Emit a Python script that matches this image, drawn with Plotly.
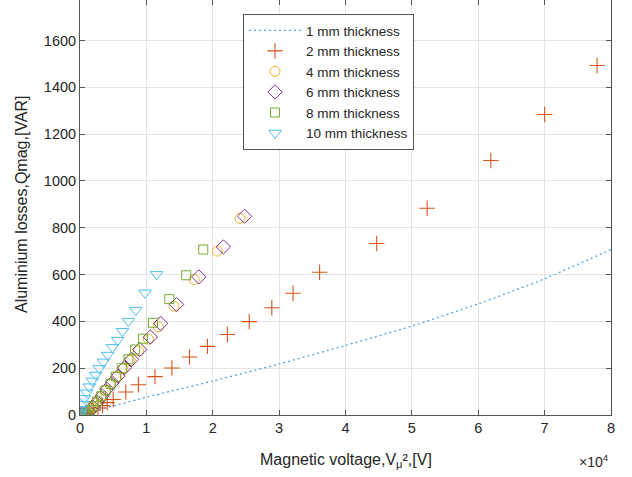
import plotly.graph_objects as go

# ---- data (x in V^2, y in VAR) ----
x_1mm = [0, 10000, 20000, 30000, 40000, 50000, 60000, 70000, 80000]
y_1mm = [0, 76, 145, 218, 297, 380, 475, 582, 707]

x_2mm = [77900, 70000, 61900, 52300, 44700, 36100, 32100, 28900, 25500, 22200,
         19200, 16500, 13850, 11300, 8800, 6900, 5000, 4100, 3400, 2700,
         2000, 1400, 900, 500, 200]
y_2mm = [1493, 1284, 1087, 883, 733, 610, 520, 458, 399, 344,
         293, 248, 201, 164, 129, 98, 66, 53, 40, 30,
         20, 13, 7, 3, 1]

x_4mm = [24100, 20700, 17200, 14160, 11800, 10300, 8800, 7550, 6500, 5500,
         4650, 3850, 3150, 2450, 1850, 1250, 850, 500, 250, 80]
y_4mm = [840, 700, 579, 465, 377, 324, 274, 232, 197, 162,
         134, 106, 79, 52, 30, 11, 5, 2, 1, 0]

x_6mm = [24800, 21600, 17900, 14550, 12150, 10600, 9000, 7750, 6700, 5700,
         4850, 4050, 3350, 2600, 1950, 1350, 900, 550, 300, 100]
y_6mm = [849, 718, 590, 472, 391, 333, 280, 238, 202, 166,
         138, 110, 82, 55, 33, 14, 5, 2, 1, 0]

x_8mm = [18570, 16000, 13450, 11000, 9500, 8300, 7300, 6300, 5400, 4600,
         3850, 3200, 2550, 2000, 1500, 1000, 600, 300, 100]
y_8mm = [707, 597, 495, 394, 326, 280, 238, 200, 164, 132,
         105, 80, 58, 38, 22, 10, 3, 1, 0]

x_10mm = [11550, 9800, 8400, 7300, 6400, 5670, 4900, 4170, 3500, 2900,
          2360, 1860, 1400, 1000, 650, 350, 150, 50, 10]
y_10mm = [601, 522, 448, 401, 358, 320, 289, 256, 227, 199,
          171, 146, 121, 95, 71, 47, 24, 10, 2]

x_ticks = [0, 10000, 20000, 30000, 40000, 50000, 60000, 70000, 80000]
x_tick_labels = ["0", "1", "2", "3", "4", "5", "6", "7", "8"]
y_ticks = [0, 200, 400, 600, 800, 1000, 1200, 1400, 1600]

C_ORANGE = "#D95319"
C_YELLOW = "#EDB120"
C_PURPLE = "#7E2F8E"
C_GREEN = "#77AC30"
C_CYAN = "#4DBEEE"
C_LINE = "#55a2dc"

FONT = "Liberation Sans, Arial, Helvetica, sans-serif"
TXT = "#262626"
AX = "#555555"

fig = go.Figure()

fig.add_trace(go.Scatter(
    x=x_1mm, y=y_1mm, mode="lines", name="1 mm thickness",
    line=dict(color=C_LINE, width=1.3, dash="2px,3px", shape="spline", smoothing=0.6),
))
fig.add_trace(go.Scatter(
    x=x_2mm, y=y_2mm, mode="markers", name="2 mm thickness",
    marker=dict(symbol="cross-thin-open", size=11, color=C_ORANGE,
                line=dict(color=C_ORANGE, width=1.1)),
))
fig.add_trace(go.Scatter(
    x=x_4mm, y=y_4mm, mode="markers", name="4 mm thickness",
    marker=dict(symbol="circle-open", size=10, color=C_YELLOW,
                line=dict(color=C_YELLOW, width=1)),
))
fig.add_trace(go.Scatter(
    x=x_6mm, y=y_6mm, mode="markers", name="6 mm thickness",
    marker=dict(symbol="diamond-open", size=11, color=C_PURPLE,
                line=dict(color=C_PURPLE, width=1)),
))
fig.add_trace(go.Scatter(
    x=x_8mm, y=y_8mm, mode="markers", name="8 mm thickness",
    marker=dict(symbol="square-open", size=9, color=C_GREEN,
                line=dict(color=C_GREEN, width=1)),
))
fig.add_trace(go.Scatter(
    x=x_10mm, y=y_10mm, mode="markers", name="10 mm thickness",
    marker=dict(symbol="triangle-down-open", size=11, color=C_CYAN,
                line=dict(color=C_CYAN, width=1)),
))
# invisible trace to activate the top mirror-tick axis
fig.add_trace(go.Scatter(
    x=[0], y=[0], xaxis="x2", mode="markers", showlegend=False,
    marker=dict(opacity=0), hoverinfo="skip",
))

PLOT_H = 415.0
PLOT_W = 531.0

fig.update_layout(
    width=632, height=477,
    margin=dict(l=80, r=21, t=0, b=62, autoexpand=False),
    paper_bgcolor="white", plot_bgcolor="white",
    font=dict(family=FONT, size=13.5, color=TXT),
    showlegend=True,
    legend=dict(
        x=(243 - 80) / PLOT_W, y=(PLOT_H - 14) / PLOT_H,
        xanchor="left", yanchor="top",
        bgcolor="white", bordercolor=AX, borderwidth=1,
        font=dict(family=FONT, size=13.5, color=TXT),
        tracegroupgap=0, itemwidth=52,
    ),
    xaxis=dict(
        range=[0, 80000], tickvals=x_ticks, ticktext=x_tick_labels,
        showgrid=True, gridcolor="#e3e3e3", gridwidth=1, automargin=False,
        zeroline=False, showline=True, linecolor=AX, linewidth=1,
        mirror=False, ticks="inside", ticklen=5, tickcolor=AX,
        tickfont=dict(family=FONT, size=14.5, color=TXT),
    ),
    xaxis2=dict(
        range=[0, 80000], tickvals=x_ticks, overlaying="x", side="top",
        showgrid=False, zeroline=False, showline=False, showticklabels=False,
        ticks="inside", ticklen=5, tickcolor=AX, automargin=False,
    ),
    yaxis=dict(
        range=[0, 1773], tickvals=y_ticks, automargin=False,
        showgrid=True, gridcolor="#e3e3e3", gridwidth=1,
        zeroline=False, showline=True, linecolor=AX, linewidth=1,
        mirror="ticks", ticks="inside", ticklen=5, tickcolor=AX,
        tickfont=dict(family=FONT, size=14.5, color=TXT),
    ),
    annotations=[
        dict(text="Magnetic voltage,V<sub>μ</sub>²,[V]", xref="paper", yref="paper",
             x=0.5, y=(PLOT_H - 460) / PLOT_H, xanchor="center", yanchor="middle",
             showarrow=False, font=dict(family=FONT, size=16, color=TXT)),
        dict(text="Aluminium losses,Qmag,[VAR]", xref="paper", yref="paper",
             x=(22 - 80) / PLOT_W, y=(PLOT_H - 204) / PLOT_H, xanchor="center",
             yanchor="middle", textangle=-90, showarrow=False,
             font=dict(family=FONT, size=16, color=TXT)),
        dict(text="×10<sup>4</sup>", xref="paper", yref="paper",
             x=1.0, y=(PLOT_H - 461) / PLOT_H, xanchor="right", yanchor="middle",
             showarrow=False, font=dict(family=FONT, size=14, color=TXT)),
    ],
)

fig.write_html(
    "out.html",
    config={"displayModeBar": False},
    post_script="document.body.style.margin='0px';document.body.style.padding='0px';",
)
